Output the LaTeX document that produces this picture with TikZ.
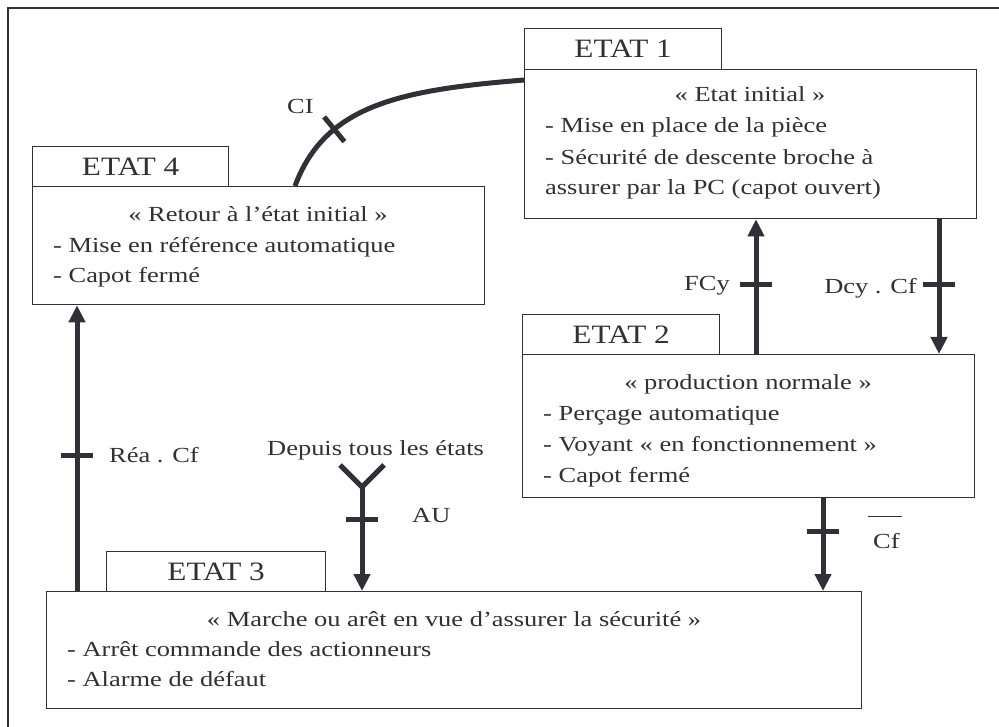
\documentclass[tikz,border=0pt]{standalone}
\usepackage{fontspec}
\setmainfont{Liberation Serif}[FakeStretch=1.23]
\newfontfamily\titlefont{Liberation Serif}[FakeStretch=1.18]
\usetikzlibrary{arrows.meta,calc}
\definecolor{ink}{RGB}{48,48,54}

\begin{document}
\begin{tikzpicture}[x=1pt,y=-1pt,
  box/.style={draw=ink, line width=1.3pt, inner sep=0pt, anchor=north west, fill=white},
  tag/.style={box, font=\titlefont\fontsize{26.5}{26.5}\selectfont, text=ink},
  txt/.style={font=\fontsize{21.5}{31}\selectfont, text=ink, inner sep=0pt},
  flow/.style={draw=ink, line width=5pt},
  arr/.style={flow, -{Triangle[length=17pt,width=16pt]}},
  cross/.style={fill=ink, draw=none, inner sep=0pt, minimum width=5pt, minimum height=32pt, sloped}]

\useasboundingbox (0,0) rectangle (999,727);
\fill[white] (0,0) rectangle (999,727);

% page frame (left and top edges)
\draw[ink, line width=1.5pt] (8,727) -- (8,8) -- (999,8);

% ---- ETAT 1 ----
\node[box, minimum width=452pt, minimum height=149pt] (m1) at (524,69) {};
\node[tag, minimum width=197pt, minimum height=41pt] (t1) at (524,28) {ETAT 1};
\node[txt, anchor=base] (a1) at (750,102) {« Etat initial »};
\node[txt, anchor=base west] (a2) at (545,133) {- Mise en place de la pièce};
\node[txt, anchor=base west] (a3) at (545,165) {- Sécurité de descente broche à};
\node[txt, anchor=base west] (a4) at (545,195) {assurer par la PC (capot ouvert)};

% ---- ETAT 4 ----
\node[box, minimum width=452pt, minimum height=118pt] (m4) at (32,186) {};
\node[tag, minimum width=196pt, minimum height=40pt] (t4) at (32,146) {ETAT 4};
\node[txt, anchor=base] (d1) at (258,222) {« Retour à l’état initial »};
\node[txt, anchor=base west] (d2) at (53,253) {- Mise en référence automatique};
\node[txt, anchor=base west] (d3) at (53,283) {- Capot fermé};

% ---- ETAT 2 ----
\node[box, minimum width=452pt, minimum height=143pt] (m2) at (522,354) {};
\node[tag, minimum width=197pt, minimum height=40pt] (t2) at (522,314) {ETAT 2};
\node[txt, anchor=base] (b1) at (748,389) {« production normale »};
\node[txt, anchor=base west] (b2) at (543,420) {- Perçage automatique};
\node[txt, anchor=base west] (b3) at (543,451) {- Voyant « en fonctionnement »};
\node[txt, anchor=base west] (b4) at (543,482) {- Capot fermé};

% ---- ETAT 3 ----
\node[box, minimum width=815pt, minimum height=117pt] (m3) at (46,591) {};
\node[tag, minimum width=219pt, minimum height=40pt] (t3) at (106,551) {ETAT 3};
\node[txt, anchor=base] (c1) at (454,626) {« Marche ou arêt en vue d’assurer la sécurité »};
\node[txt, anchor=base west] (c2) at (67,656) {- Arrêt commande des actionneurs};
\node[txt, anchor=base west] (c3) at (67,686) {- Alarme de défaut};

% columns of the vertical transitions
\coordinate (xa) at (756,0);
\coordinate (xb) at (939,0);
\coordinate (xc) at (823,0);
\coordinate (xd) at (77,0);
\coordinate (xe) at (362,0);

% ETAT 2 -> ETAT 1
\draw[arr] (xa |- m2.north) -- (xa |- m1.south) node[cross, pos=0.515] (k1) {};
\node[txt, anchor=base east] (lfcy) at (730,291) {FCy};

% ETAT 1 -> ETAT 2
\draw[arr] (xb |- m1.south) -- (xb |- m2.north) node[cross, pos=0.485] (k2) {};
\node[txt, anchor=base east] (ldcy) at (917,294) {Dcy . Cf};

% ETAT 2 -> ETAT 3
\draw[arr] (xc |- m2.south) -- (xc |- m3.north) node[cross, pos=0.362] (k3) {};
\node[txt, anchor=base west] (lcf) at (873,548) {Cf};
\draw[ink, line width=1.3pt] ($(lcf.north west)+(-5,-16)$) -- ($(lcf.north east)+(2,-16)$);

% ETAT 3 -> ETAT 4
\draw[arr] (xd |- m3.north) -- (xd |- m4.south) node[cross, pos=0.474] (k4) {};
\node[txt, anchor=base west] (lrea) at (109,462) {Réa . Cf};

% emergency stop from any state -> ETAT 3
\node[txt, anchor=base west] (ldep) at (267,455) {Depuis tous les états};
\coordinate (yj) at (362,487);
\coordinate (yl) at (340,465);
\coordinate (yr) at (384,465);
\draw[flow, line join=miter] (yl) -- (yj) -- (yr);
\draw[arr] (yj) -- (xe |- m3.north) node[cross, pos=0.317] (k5) {};
\node[txt, anchor=base west] (lau) at (412,522) {AU};

% ETAT 4 -> ETAT 1
\draw[flow] ($(m4.north west)+(263,0)$) .. controls (325,105) and (400,90) .. ($(m1.north west)+(0,11)$)
  node[cross, pos=0.3] (k6) {};
\node[txt, anchor=base west] (lci) at (287,114) {CI};
\end{tikzpicture}
\end{document}
